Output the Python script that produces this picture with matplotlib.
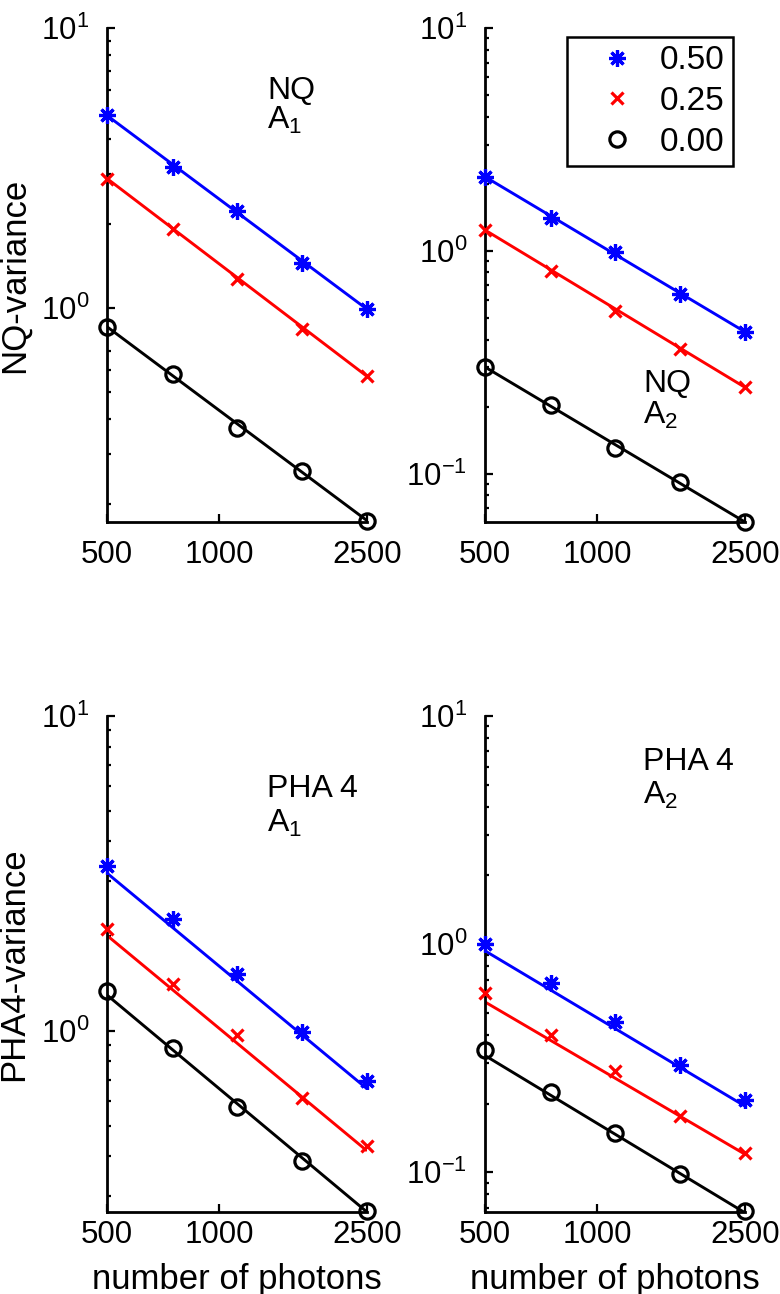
"""
Variance vs number of photons, four log-log panels
"""

import matplotlib
matplotlib.use("Agg")
import matplotlib.pyplot as plt
from matplotlib.lines import Line2D
from matplotlib.ticker import LogLocator, NullLocator, NullFormatter, FixedLocator, FixedFormatter

plt.rcParams['font.family'] = ['Liberation Sans', 'DejaVu Sans']
plt.rcParams['mathtext.fontset'] = 'custom'
plt.rcParams['mathtext.rm'] = 'Liberation Sans'
plt.rcParams['mathtext.it'] = 'Liberation Sans'

# data
photons = [500, 750, 1120, 1670, 2500]
fit_x = [500, 2500]
levels = ['0.50', '0.25', '0.00']

nq_a1_050 = [4.87, 3.19, 2.22, 1.45, 0.99]
nq_a1_025 = [2.90, 1.91, 1.27, 0.844, 0.570]
nq_a1_000 = [0.857, 0.579, 0.373, 0.262, 0.174]
nq_a1_fit = [[4.87, 0.99], [2.90, 0.57], [0.857, 0.174]]

nq_a2_050 = [2.15, 1.41, 0.985, 0.640, 0.433]
nq_a2_025 = [1.24, 0.813, 0.539, 0.364, 0.244]
nq_a2_000 = [0.301, 0.203, 0.131, 0.0915, 0.0607]
nq_a2_fit = [[2.15, 0.433], [1.24, 0.244], [0.301, 0.0607]]

pha_a1_050 = [3.33, 2.27, 1.52, 0.99, 0.695]
pha_a1_025 = [2.11, 1.41, 0.97, 0.614, 0.432]
pha_a1_000 = [1.34, 0.884, 0.575, 0.387, 0.268]
pha_a1_fit = [[3.17, 0.655], [2.01, 0.416], [1.30, 0.266]]

pha_a2_050 = [1.0, 0.676, 0.456, 0.294, 0.208]
pha_a2_025 = [0.608, 0.398, 0.278, 0.176, 0.121]
pha_a2_000 = [0.345, 0.224, 0.148, 0.098, 0.0676]
pha_a2_fit = [[0.935, 0.195], [0.558, 0.120], [0.325, 0.0665]]

colors = ['#0000ff', '#ff0000', '#000000']
markers = [(8, 2, 0), 'x', 'o']
msizes = [12, 9, 11]

W, H = 780, 1294
fig = plt.figure(figsize=(W / 100, H / 100), dpi=100)


def px_axes(left, top, right, bottom):
    return fig.add_axes([left / W, 1 - bottom / H, (right - left) / W, (bottom - top) / H])


def draw_panel(ax, series, fits, ymin, tick_pad):
    for vals, fit, c, m, ms in zip(series, fits, colors, markers, msizes):
        ax.plot(fit_x, fit, color=c, lw=2.1, solid_capstyle='butt', zorder=2)
        ax.plot(photons, vals, ls='none', marker=m, ms=ms, mew=2.3,
                mec=c, mfc='none' if m == 'o' else c, clip_on=False, zorder=3)
    ax.set_xscale('log')
    ax.set_yscale('log')
    ax.set_xlim(500, 2500)
    ax.set_ylim(ymin, 10)
    ax.xaxis.set_major_locator(FixedLocator([500, 1000, 2500]))
    ax.xaxis.set_major_formatter(FixedFormatter(['500', '1000', '2500']))
    ax.xaxis.set_minor_locator(NullLocator())
    ax.yaxis.set_major_locator(LogLocator(base=10))
    ax.yaxis.set_minor_locator(LogLocator(base=10, subs=range(2, 10)))
    ax.yaxis.set_minor_formatter(NullFormatter())
    for s in ['top', 'right']:
        ax.spines[s].set_visible(False)
    for s in ['left', 'bottom']:
        ax.spines[s].set_linewidth(2.0)
    ax.tick_params(which='both', direction='in', width=1.6, labelsize=22.5)
    ax.tick_params(which='major', length=6)
    ax.tick_params(which='minor', length=3)
    ax.tick_params(axis='y', pad=13)
    ax.tick_params(axis='x', pad=tick_pad)


ax1 = px_axes(107, 28, 367, 522)
ax2 = px_axes(485, 28, 745, 522)
ax3 = px_axes(107, 716, 367, 1212)
ax4 = px_axes(485, 716, 745, 1212)

draw_panel(ax1, [nq_a1_050, nq_a1_025, nq_a1_000], nq_a1_fit, 0.172, 13)
draw_panel(ax2, [nq_a2_050, nq_a2_025, nq_a2_000], nq_a2_fit, 0.0607, 13)
draw_panel(ax3, [pha_a1_050, pha_a1_025, pha_a1_000], pha_a1_fit, 0.266, 6)
draw_panel(ax4, [pha_a2_050, pha_a2_025, pha_a2_000], pha_a2_fit, 0.067, 6)

# panel annotations
ax1.text(0.615, 0.873, 'NQ', transform=ax1.transAxes, fontsize=23, va='center')
ax1.text(0.615, 0.812, r'A$_\mathregular{1}$', transform=ax1.transAxes, fontsize=23, va='center')
ax2.text(0.608, 0.279, 'NQ', transform=ax2.transAxes, fontsize=23, va='center')
ax2.text(0.608, 0.216, r'A$_\mathregular{2}$', transform=ax2.transAxes, fontsize=23, va='center')
ax3.text(0.615, 0.853, 'PHA 4', transform=ax3.transAxes, fontsize=23, va='center')
ax3.text(0.615, 0.784, r'A$_\mathregular{1}$', transform=ax3.transAxes, fontsize=23, va='center')
ax4.text(0.608, 0.907, 'PHA 4', transform=ax4.transAxes, fontsize=23, va='center')
ax4.text(0.608, 0.840, r'A$_\mathregular{2}$', transform=ax4.transAxes, fontsize=23, va='center')

# legend (markers only)
handles = [Line2D([], [], ls='none', marker=m, ms=ms, mew=2.3, mec=c,
                  mfc='none' if m == 'o' else c, color=c)
           for c, m, ms in zip(colors, markers, msizes)]
leg = ax2.legend(handles, levels, loc='upper right', bbox_to_anchor=(0.954, 0.982),
                 fontsize=24, frameon=True, fancybox=False, framealpha=1,
                 edgecolor='black', handlelength=2.5, handletextpad=0.05,
                 labelspacing=0.29, borderpad=0.25, borderaxespad=0)
leg.get_frame().set_linewidth(1.8)

# axis labels
fig.text(14 / W, 1 - 275 / H, 'NQ-variance', rotation=90, fontsize=25, ha='center', va='center')
fig.text(14 / W, 1 - 964 / H, 'PHA4-variance', rotation=90, fontsize=25, ha='center', va='center')
fig.text(237 / W, 1 - 1280 / H, 'number of photons', fontsize=25, ha='center', va='center')
fig.text(615 / W, 1 - 1280 / H, 'number of photons', fontsize=25, ha='center', va='center')

plt.savefig('out.png', dpi=100)
